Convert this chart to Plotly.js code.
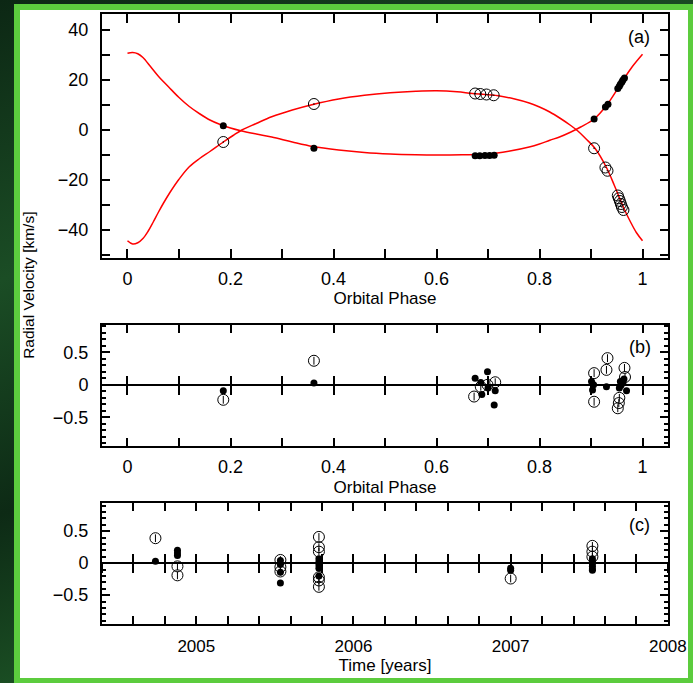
<!DOCTYPE html>
<html>
<head>
<meta charset="utf-8">
<script src="https://cdn.plot.ly/plotly-3.0.1.min.js"></script>
<style>
  html, body { margin:0; padding:0; width:693px; height:683px; overflow:hidden; }
  body { background: linear-gradient(160deg, #0c2714 0%, #1b4d25 30%, #0d2a15 55%, #1f5a28 80%, #0b2211 100%); position:relative; }
  #frame { position:absolute; left:14px; top:4px; width:668px; height:668px; border:6px solid #5ccc3e; background:#fff; }
  #plot { width:668px; height:668px; }
</style>
</head>
<body>
<div id="frame"><div id="plot"></div></div>
<script>
// ---- model curves ----
const curvePhaseA = [0.00,0.01,0.02,0.03,0.045,0.06,0.08,0.10,0.12,0.14,0.16,0.18,0.20,0.22,0.25,0.28,0.32,0.36,0.41,0.46,0.51,0.56,0.60,0.65,0.70,0.74,0.78,0.80,0.82,0.84,0.86,0.88,0.906,0.93,0.952,0.965,0.98,1.00];
const curveRVA    = [30.7,31.0,30.5,29.0,25.3,21.5,17.2,13.0,9.4,6.5,4.0,2.2,0.8,-0.3,-1.6,-2.8,-4.8,-6.6,-8.0,-9.0,-9.6,-9.9,-10.0,-9.9,-9.6,-8.5,-6.8,-5.6,-4.1,-2.7,-0.9,1.2,4.4,9.8,16.6,20.8,25.3,30.3];
const curvePhaseB = [0.00,0.01,0.02,0.03,0.04,0.05,0.06,0.07,0.083,0.10,0.12,0.14,0.16,0.186,0.205,0.222,0.25,0.28,0.32,0.36,0.41,0.46,0.51,0.56,0.60,0.64,0.67,0.72,0.75,0.78,0.80,0.82,0.84,0.86,0.875,0.89,0.908,0.93,0.945,0.956,0.966,0.976,0.988,1.00];
const curveRVB    = [-44.3,-45.6,-45.1,-43.4,-40.5,-36.8,-32.9,-29.2,-24.8,-19.7,-14.7,-11.4,-8.6,-4.8,-2.2,0.0,2.6,5.3,8.0,10.2,12.4,13.9,14.9,15.5,15.7,15.3,14.6,13.7,12.5,10.8,9.2,7.2,4.7,1.9,-0.5,-3.5,-7.4,-15.0,-22.0,-27.5,-32.3,-36.5,-41.0,-44.3];

// ---- measured radial velocities (a) ----
const primPhase = [0.186,0.362,0.675,0.684,0.694,0.703,0.712,0.906,0.928,0.933,0.952,0.955,0.957,0.960,0.962,0.965];
const primRV    = [1.7,-7.3,-10.3,-10.3,-10.2,-10.2,-10.1,4.4,9.2,10.3,16.6,17.5,18.3,19.2,20.0,20.8];
const secPhase  = [0.186,0.362,0.675,0.685,0.697,0.711,0.906,0.928,0.932,0.952,0.954,0.956,0.958,0.960,0.963];
const secRV     = [-4.8,10.4,14.6,14.4,14.2,13.9,-7.3,-15.0,-16.3,-26.2,-27.3,-28.4,-29.6,-30.8,-32.0];

// ---- residuals vs phase (b) ----
const resPrimPhase = [0.186,0.362,0.675,0.686,0.688,0.699,0.700,0.714,0.712,0.901,0.903,0.905,0.930,0.955,0.957,0.958,0.962,0.964,0.969];
const resPrim      = [-0.09,0.03,0.10,0.035,-0.15,0.20,-0.05,-0.09,-0.31,0.05,-0.08,0.00,-0.03,-0.05,0.05,-0.01,0.03,0.09,-0.09];
const resSecPhase  = [0.186,0.362,0.673,0.686,0.699,0.714,0.906,0.906,0.930,0.932,0.954,0.955,0.952,0.965,0.966];
const resSec       = [-0.23,0.37,-0.18,-0.03,0.00,0.04,0.18,-0.26,0.23,0.41,-0.28,-0.20,-0.36,0.26,0.12];

// ---- residuals vs time (c) ----
const timePrim = [2004.74,2004.88,2004.88,2004.88,2005.535,2005.535,2005.535,2005.535,2005.78,2005.78,2005.78,2005.78,2005.78,2007.0,2007.0,2007.52,2007.52,2007.52,2007.52,2007.52,2007.52];
const resPrimT = [0.03,0.20,0.16,0.12,0.04,-0.02,-0.14,-0.31,0.07,0.02,-0.03,-0.08,-0.20,-0.08,-0.11,0.07,0.03,-0.01,-0.05,-0.09,-0.11];
const timeSec  = [2004.74,2004.88,2004.88,2005.535,2005.535,2005.535,2005.78,2005.78,2005.78,2005.78,2005.78,2005.78,2007.0,2007.52,2007.52,2007.52];
const resSecT  = [0.39,-0.05,-0.19,0.05,-0.06,-0.13,0.41,0.25,0.18,-0.22,-0.27,-0.37,-0.24,0.27,0.18,0.10];

// ---- labels ----
const xTitlePhase = 'Orbital Phase';
const xTitleTime = 'Time [years]';
const yTitle = 'Radial Velocity [km/s]';
const panelLabels = ['(a)','(b)','(c)'];

const FONT = 'Liberation Sans, Arial, sans-serif';
const filled = {color:'#000', size:7, symbol:'circle'};
const openDot = {color:'#000', size:11, symbol:'circle-open-dot', line:{width:1, color:'#000'}};
const openC = {color:'#000', size:11, symbol:'circle-open', line:{width:1, color:'#000'}};
const errSmall = {type:'constant', value:0.06, width:0, thickness:1, color:'#000'};

const traces = [
  {x:curvePhaseA, y:curveRVA, mode:'lines', line:{color:'#ff0000', width:1.5, shape:'spline', smoothing:1}, xaxis:'x', yaxis:'y'},
  {x:curvePhaseB, y:curveRVB, mode:'lines', line:{color:'#ff0000', width:1.5, shape:'spline', smoothing:1}, xaxis:'x', yaxis:'y'},
  {x:primPhase, y:primRV, mode:'markers', marker:filled, xaxis:'x', yaxis:'y'},
  {x:secPhase, y:secRV, mode:'markers', marker:openDot, xaxis:'x', yaxis:'y'},
  {x:resPrimPhase, y:resPrim, mode:'markers', marker:filled, xaxis:'x2', yaxis:'y2'},
  {x:resSecPhase, y:resSec, mode:'markers', marker:openC, error_y:errSmall, xaxis:'x2', yaxis:'y2'},
  {x:timePrim, y:resPrimT, mode:'markers', marker:filled, xaxis:'x3', yaxis:'y3'},
  {x:timeSec, y:resSecT, mode:'markers', marker:openC, error_y:errSmall, xaxis:'x3', yaxis:'y3'},
  {x:[], y:[], mode:'markers', xaxis:'x4', yaxis:'y2'},
  {x:[], y:[], mode:'markers', xaxis:'x5', yaxis:'y2'},
  {x:[], y:[], mode:'markers', xaxis:'x6', yaxis:'y3'},
  {x:[], y:[], mode:'markers', xaxis:'x7', yaxis:'y3'}
];

const domA = [0.6, 1.0], domB = [0.2918, 0.4902], domC = [0.0, 0.1984];
const rA = [-51.2, 46.4], rB = [-0.94, 0.92], rC = [-0.95, 0.94];
const rPhase = [-0.0495, 1.0495], rTime = [2004.4, 2008.001];
function zeroPos(dom, r){ return dom[0] + (0 - r[0])/(r[1]-r[0])*(dom[1]-dom[0]); }

const tickFont = {family:FONT, size:18, color:'#000'};
const titleFont = {family:FONT, size:17, color:'#000'};
function baseAx(extra){
  return Object.assign({
    showline:true, linewidth:2, linecolor:'#000', mirror:'ticks',
    ticks:'inside', ticklen:9, tickwidth:2, tickcolor:'#000',
    showgrid:false, zeroline:false, tickfont:tickFont, fixedrange:true,
    ticklabeloverflow:'allow'
  }, extra);
}
function zeroAx(over, anchorDom, anchorR, rng, dt, t0, dir){
  return {overlaying:over, anchor:'free', position:zeroPos(anchorDom, anchorR), range:rng,
    tick0:t0, dtick:dt, ticks:dir, ticklen:9, tickwidth:2, tickcolor:'#000',
    showticklabels:false, showline:false, showgrid:false, zeroline:false, side:'bottom'};
}

const layout = {
  width:668, height:668,
  margin:{l:82, r:20, t:4, b:54},
  paper_bgcolor:'#fff', plot_bgcolor:'#fff',
  showlegend:false,
  font:{family:FONT, color:'#000'},
  xaxis: baseAx({anchor:'y', range:rPhase, tick0:0, dtick:0.2, ticklabelstandoff:3,
    minor:{dtick:0.1, tick0:0, ticks:'inside', ticklen:9, tickwidth:2, tickcolor:'#000'},
    title:{text:xTitlePhase, font:titleFont, standoff:5}}),
  yaxis: baseAx({domain:domA, anchor:'x', range:rA, tick0:0, dtick:20, ticklen:8, ticklabelstandoff:8,
    minor:{dtick:10, tick0:0, ticks:'inside', ticklen:8, tickwidth:2, tickcolor:'#000'}}),
  xaxis2: baseAx({anchor:'y2', range:rPhase, tick0:0, dtick:0.2, ticklen:8, ticklabelstandoff:3,
    minor:{dtick:0.1, tick0:0, ticks:'inside', ticklen:8, tickwidth:2, tickcolor:'#000'},
    title:{text:xTitlePhase, font:titleFont, standoff:5}}),
  yaxis2: baseAx({domain:domB, anchor:'x2', range:rB, tick0:0, dtick:0.5, ticklen:8, ticklabelstandoff:8,
    zeroline:true, zerolinecolor:'#000', zerolinewidth:2,
    minor:{dtick:0.1, tick0:0, ticks:'inside', ticklen:4, tickwidth:2, tickcolor:'#000'}}),
  xaxis3: baseAx({anchor:'y3', range:rTime, tick0:2005, dtick:1, ticklen:8, ticklabelstandoff:6,
    tickfont:{family:FONT, size:17, color:'#000'},
    minor:{dtick:0.2, tick0:2005, ticks:'inside', ticklen:8, tickwidth:2, tickcolor:'#000'},
    title:{text:xTitleTime, font:titleFont, standoff:3}}),
  yaxis3: baseAx({domain:domC, anchor:'x3', range:rC, tick0:0, dtick:0.5, ticklen:8, ticklabelstandoff:8,
    zeroline:true, zerolinecolor:'#000', zerolinewidth:2,
    minor:{dtick:0.1, tick0:0, ticks:'inside', ticklen:4, tickwidth:2, tickcolor:'#000'}}),
  xaxis4: zeroAx('x2', domB, rB, rPhase, 0.1, 0, 'inside'),
  xaxis5: zeroAx('x2', domB, rB, rPhase, 0.1, 0, 'outside'),
  xaxis6: zeroAx('x3', domC, rC, rTime, 0.2, 2005, 'inside'),
  xaxis7: zeroAx('x3', domC, rC, rTime, 0.2, 2005, 'outside'),
  annotations: [
    {text:panelLabels[0], xref:'x domain', yref:'y domain', x:0.949, y:0.906, showarrow:false, font:{family:FONT, size:18, color:'#000'}, xanchor:'center', yanchor:'middle'},
    {text:panelLabels[1], xref:'x2 domain', yref:'y2 domain', x:0.950, y:0.818, showarrow:false, font:{family:FONT, size:18, color:'#000'}, xanchor:'center', yanchor:'middle'},
    {text:panelLabels[2], xref:'x3 domain', yref:'y3 domain', x:0.950, y:0.818, showarrow:false, font:{family:FONT, size:18, color:'#000'}, xanchor:'center', yanchor:'middle'},
    {text:yTitle, xref:'paper', yref:'paper', x:-0.129, y:0.556, textangle:-90, showarrow:false,
      font:{family:FONT, size:15.5, color:'#000'}, xanchor:'center', yanchor:'middle'}
  ]
};

Plotly.newPlot('plot', traces, layout, {displayModeBar:false, staticPlot:true});
</script>
</body>
</html>
